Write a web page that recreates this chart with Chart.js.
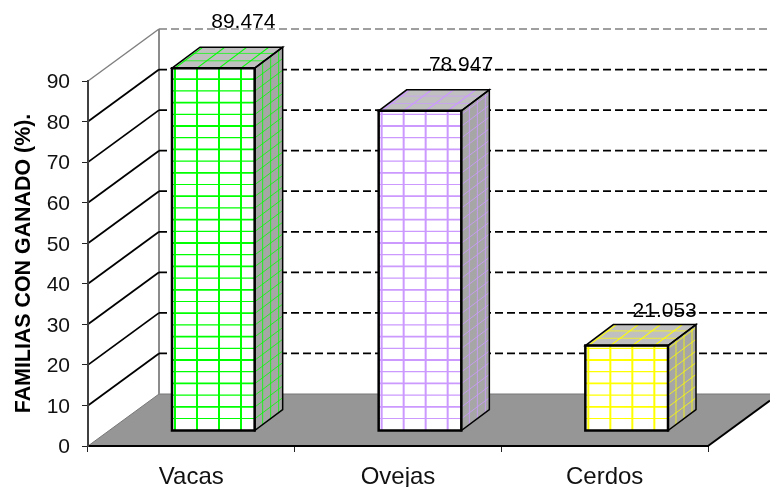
<!DOCTYPE html>
<html>
<head>
<meta charset="utf-8">
<style>
html,body{margin:0;padding:0;background:#fff;}
canvas{display:block;}
</style>
<script src="https://cdn.jsdelivr.net/npm/chart.js@4"></script>
</head>
<body>
<canvas id="ganado" width="770" height="487"></canvas>
<script>
const categorias = ["Vacas", "Ovejas", "Cerdos"];
const familias = [89.474, 78.947, 21.053];
const etiquetas = ["89.474", "78.947", "21.053"];
const colores = ["#00ff00", "#cc99ff", "#ffff00"];
const ticksY = [0, 10, 20, 30, 40, 50, 60, 70, 80, 90];

// fake 3d: depth of the walls, where the bars stand on the floor, depth of a bar
const wallDx = 71, wallDy = -52;
const shiftX = 22, shiftY = -15;
const barDx = 28, barDy = -21;
const labelShift = [[52, -61], [63, -61], [60, -49]];

function line(ctx, x0, y0, x1, y1){
  ctx.beginPath();
  ctx.moveTo(x0, y0);
  ctx.lineTo(x1, y1);
  ctx.stroke();
}

function poly(ctx, pts){
  ctx.beginPath();
  pts.forEach((p, i) => i ? ctx.lineTo(p[0], p[1]) : ctx.moveTo(p[0], p[1]));
  ctx.closePath();
}

const walls = {
  id: "walls",
  beforeDraw(chart){
    const ctx = chart.ctx, y = chart.scales.y, a = chart.chartArea;
    const W = chart.width;
    ctx.save();

    // floor
    const y0 = y.getPixelForValue(0);
    const slope = wallDy / wallDx;
    poly(ctx, [[a.left, y0], [a.left + wallDx, y0 + wallDy], [W, y0 + wallDy],
      [W, y0 + (W - a.right) * slope], [a.right, y0]]);
    ctx.fillStyle = "#969696";
    ctx.fill();
    ctx.strokeStyle = "#777";
    ctx.lineWidth = 1;
    line(ctx, a.left + wallDx, y0 + wallDy, W, y0 + wallDy);
    line(ctx, a.left, y0, a.left + wallDx, y0 + wallDy);
    ctx.strokeStyle = "#000";
    ctx.lineWidth = 2;
    line(ctx, a.right, y0, W, y0 + (W - a.right) * slope);

    // back wall edge
    const top = y.getPixelForValue(90);
    ctx.strokeStyle = "#8c8c8c";
    ctx.lineWidth = 2;
    line(ctx, a.left + wallDx, top + wallDy, a.left + wallDx, y0 + wallDy);

    // grid lines, side wall then back wall
    ticksY.slice(1).forEach(v => {
      const py = y.getPixelForValue(v);
      const last = v === 90;
      ctx.strokeStyle = last ? "#808080" : "#000";
      ctx.lineWidth = last ? 1.5 : 1.8;
      ctx.setLineDash([]);
      line(ctx, a.left, py, a.left + wallDx, py + wallDy);
      ctx.setLineDash([8, 4]);
      line(ctx, a.left + wallDx, py + wallDy, W, py + wallDy);
    });
    ctx.restore();
  }
};

const bars3d = {
  id: "bars3d",
  beforeDatasetDraw(chart){
    chart.ctx.save();
    chart.ctx.translate(shiftX, shiftY);
  },
  afterDatasetDraw(chart, args){
    const ctx = chart.ctx;
    args.meta.data.forEach((bar, i) => {
      const x0 = bar.x - bar.width / 2, x1 = bar.x + bar.width / 2;
      const y0 = bar.y, y1 = bar.base;
      const front = [[x0, y0], [x1, y0], [x1, y1], [x0, y1]];
      const side = [[x1, y0], [x1 + barDx, y0 + barDy], [x1 + barDx, y1 + barDy], [x1, y1]];
      const roof = [[x0, y0], [x0 + barDx, y0 + barDy], [x1 + barDx, y0 + barDy], [x1, y0]];
      ctx.strokeStyle = colores[i];

      // front face
      ctx.save();
      poly(ctx, front);
      ctx.clip();
      ctx.lineWidth = 2;
      for(let x = x0 + 3; x < x1; x += 22) line(ctx, x, y0, x, y1);
      for(let yy = y1 - 12; yy > y0; yy -= 11.7){
        ctx.lineWidth = Math.round((y1 - yy) / 11.7) % 2 ? 1.2 : 1.8;
        line(ctx, x0, yy, x1, yy);
      }
      ctx.restore();

      // side face
      ctx.save();
      poly(ctx, side);
      ctx.fillStyle = "#a6a6a6";
      ctx.fill();
      ctx.clip();
      ctx.lineWidth = 0.8;
      for(let k = 1; k < 4; k++) line(ctx, x1 + k * 8, y0 + barDy, x1 + k * 8, y1);
      for(let yy = y1; yy > y0; yy -= 11.7) line(ctx, x1, yy, x1 + barDx, yy + barDy);
      ctx.restore();

      // roof
      ctx.save();
      poly(ctx, roof);
      ctx.fillStyle = "#c0c0c0";
      ctx.fill();
      ctx.clip();
      ctx.lineWidth = 1.2;
      for(let x = x0 + 3; x < x1; x += 22) line(ctx, x, y0, x + barDx, y0 + barDy);
      ctx.lineWidth = 0.7;
      line(ctx, x0, y0 + barDy * 0.7, x1 + barDx, y0 + barDy * 0.7);
      line(ctx, x0, y0 + barDy * 0.35, x1 + barDx, y0 + barDy * 0.35);
      ctx.restore();

      // outlines
      ctx.strokeStyle = "#000";
      ctx.lineWidth = 1.5;
      poly(ctx, roof); ctx.stroke();
      poly(ctx, side); ctx.stroke();
      ctx.lineWidth = 2.5;
      poly(ctx, front); ctx.stroke();
    });
    ctx.restore();
  },
  afterDatasetsDraw(chart){
    const ctx = chart.ctx;
    ctx.save();
    ctx.fillStyle = "#000";
    ctx.font = "21px 'Liberation Sans'";
    ctx.textAlign = "center";
    ctx.textBaseline = "middle";
    chart.getDatasetMeta(0).data.forEach((bar, i) => {
      ctx.fillText(etiquetas[i], bar.x + labelShift[i][0], bar.y + labelShift[i][1]);
    });
    ctx.restore();
  }
};

new Chart(document.getElementById("ganado"), {
  type: "bar",
  data: {
    labels: categorias,
    datasets: [{
      data: familias,
      backgroundColor: "#fff",
      borderWidth: 0,
      barPercentage: 0.4,
      categoryPercentage: 1,
      clip: false
    }]
  },
  options: {
    responsive: false,
    animation: false,
    events: [],
    layout: { padding: { left: 0, right: 62, top: 81, bottom: 0 } },
    plugins: { legend: { display: false }, tooltip: { enabled: false } },
    scales: {
      x: {
        afterFit(s){ s.height = 41; },
        grid: { drawOnChartArea: false, color: "#222", tickLength: 6, lineWidth: 1 },
        border: { color: "#000", width: 2 },
        ticks: { color: "#111", font: { family: "Liberation Sans", size: 24 }, padding: 11, maxRotation: 0 }
      },
      y: {
        min: 0,
        max: 90,
        afterFit(s){ s.width = 88; },
        afterBuildTicks(s){ s.ticks = ticksY.map(v => ({ value: v })); },
        grid: { drawOnChartArea: false, color: "#222", tickLength: 6, lineWidth: 1 },
        border: { color: "#404040", width: 2 },
        ticks: { color: "#111", font: { family: "Liberation Sans", size: 21 }, padding: 12, labelOffset: 1.5 },
        title: {
          display: true,
          text: "FAMILIAS CON GANADO (%).",
          color: "#000",
          font: { family: "Liberation Sans", size: 21.4, weight: "bold" },
          padding: { top: 11, bottom: 0 }
        }
      }
    }
  },
  plugins: [walls, bars3d]
});
</script>
</body>
</html>
